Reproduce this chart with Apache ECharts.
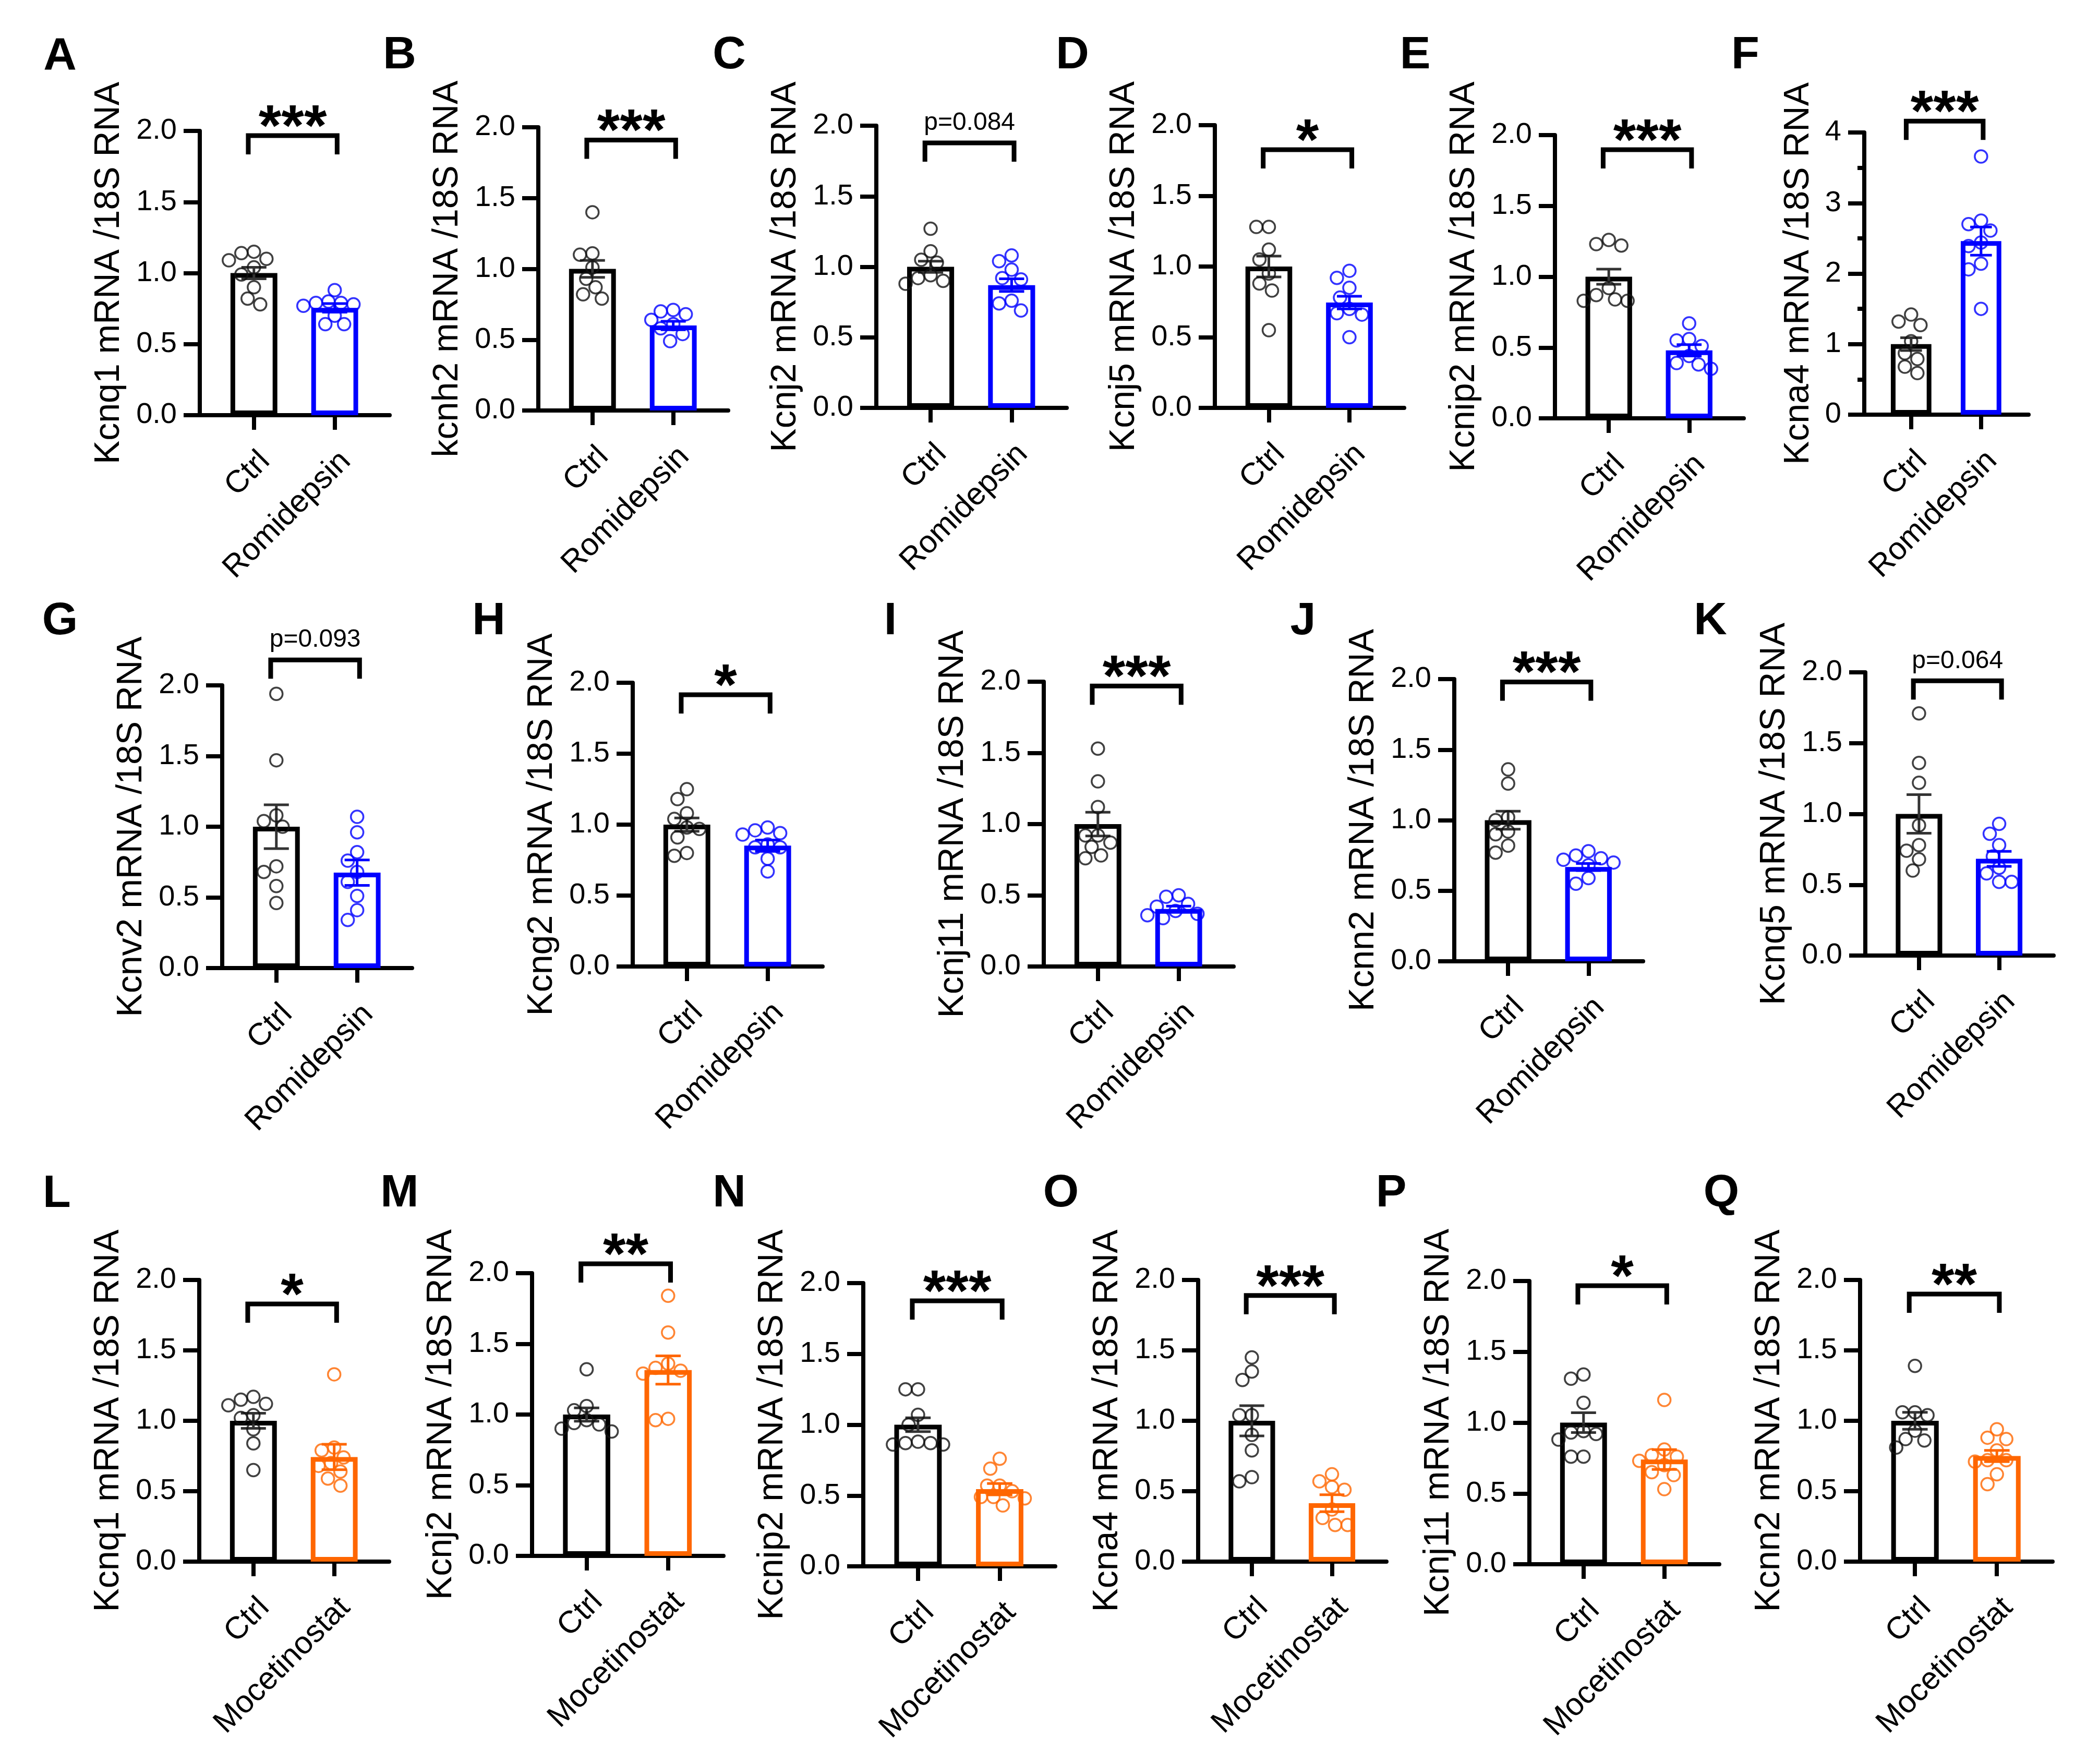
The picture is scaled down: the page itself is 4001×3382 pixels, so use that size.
<!DOCTYPE html>
<html>
<head>
<meta charset="utf-8">
<title>K+ channel mRNA / 18S RNA</title>
<script src="https://cdn.jsdelivr.net/npm/echarts@6/dist/echarts.min.js"></script>
<style>
  html, body { margin: 0; padding: 0; background: #fff; }
  #chart { width: 4001px; height: 3382px; }
</style>
</head>
<body>
<div id="chart"></div>
<script>
// ---- data ----
const panelLetters = ['A', 'B', 'C', 'D', 'E', 'F', 'G', 'H', 'I', 'J', 'K', 'L', 'M', 'N', 'O', 'P', 'Q'];
const geneNames = ['Kcnq1', 'kcnh2', 'Kcnj2', 'Kcnj5', 'Kcnip2', 'Kcna4', 'Kcnv2', 'Kcng2', 'Kcnj11', 'Kcnn2', 'Kcnq5',
  'Kcnq1', 'Kcnj2', 'Kcnip2', 'Kcna4', 'Kcnj11', 'Kcnn2'];
const drugNames = ['Romidepsin', 'Romidepsin', 'Romidepsin', 'Romidepsin', 'Romidepsin', 'Romidepsin',
  'Romidepsin', 'Romidepsin', 'Romidepsin', 'Romidepsin', 'Romidepsin',
  'Mocetinostat', 'Mocetinostat', 'Mocetinostat', 'Mocetinostat', 'Mocetinostat', 'Mocetinostat'];
const yMaxValues = [2, 2, 2, 2, 2, 4, 2, 2, 2, 2, 2, 2, 2, 2, 2, 2, 2];
const sigLabels = ['***', '***', 'p=0.084', '*', '***', '***', 'p=0.093', '*', '***', '***', 'p=0.064',
  '*', '**', '***', '***', '*', '**'];

// bar heights (mean) and SEM, [Ctrl, drug]
const barMeans = [
  [1.0, 0.755], [1.0, 0.60], [1.0, 0.87], [1.0, 0.745], [1.0, 0.48], [1.0, 2.46],
  [1.0, 0.675], [1.0, 0.852], [1.0, 0.404], [1.0, 0.668], [1.0, 0.683],
  [1.0, 0.743], [1.0, 1.315], [1.0, 0.545], [1.0, 0.415], [1.0, 0.739], [1.0, 0.75]
];
const barSems = [
  [0.04, 0.03], [0.06, 0.03], [0.04, 0.045], [0.074, 0.045], [0.053, 0.04], [0.09, 0.2],
  [0.155, 0.09], [0.047, 0.04], [0.083, 0.02], [0.064, 0.025], [0.136, 0.053],
  [0.054, 0.09], [0.047, 0.1], [0.049, 0.04], [0.107, 0.06], [0.07, 0.07], [0.06, 0.04]
];

const ctrlDots = [
  [1.15, 1.14, 1.10, 1.09, 1.04, 0.99, 0.90, 0.82, 0.78],
  [1.40, 1.11, 1.10, 1.01, 0.93, 0.87, 0.82, 0.79],
  [1.27, 1.11, 1.05, 1.03, 0.94, 0.92, 0.90, 0.88],
  [1.28, 1.28, 1.12, 1.05, 0.95, 0.88, 0.83, 0.55],
  [1.26, 1.23, 1.22, 0.92, 0.87, 0.84, 0.83, 0.83],
  [1.42, 1.32, 1.27, 1.04, 0.87, 0.79, 0.68, 0.59],
  [1.94, 1.47, 1.08, 1.04, 1.00, 0.72, 0.68, 0.58, 0.46],
  [1.25, 1.18, 1.08, 1.04, 0.98, 0.97, 0.91, 0.80, 0.78],
  [1.53, 1.30, 1.12, 0.92, 0.92, 0.87, 0.84, 0.78, 0.76],
  [1.36, 1.26, 1.02, 1.00, 0.92, 0.90, 0.82, 0.77],
  [1.71, 1.36, 1.22, 0.92, 0.78, 0.74, 0.68, 0.60],
  [1.17, 1.15, 1.12, 1.11, 1.04, 1.02, 0.94, 0.84, 0.65],
  [1.32, 1.06, 1.03, 0.96, 0.94, 0.93, 0.90, 0.88],
  [1.25, 1.25, 1.07, 1.00, 0.88, 0.87, 0.87, 0.86, 0.86],
  [1.45, 1.35, 1.29, 1.04, 1.04, 0.90, 0.79, 0.60, 0.57],
  [1.34, 1.31, 1.14, 0.94, 0.93, 0.92, 0.88, 0.76, 0.76],
  [1.39, 1.06, 1.06, 1.04, 0.93, 0.87, 0.86, 0.81]
];
const drugDots = [
  [0.88, 0.80, 0.79, 0.79, 0.78, 0.77, 0.70, 0.64, 0.64],
  [0.71, 0.70, 0.68, 0.64, 0.61, 0.58, 0.54, 0.49],
  [1.08, 1.04, 0.98, 0.92, 0.91, 0.76, 0.74, 0.69],
  [0.97, 0.92, 0.85, 0.78, 0.70, 0.67, 0.66, 0.50],
  [0.67, 0.56, 0.55, 0.51, 0.44, 0.39, 0.38, 0.35],
  [3.66, 2.75, 2.70, 2.61, 2.44, 2.39, 2.14, 2.06, 1.50],
  [1.07, 0.96, 0.82, 0.76, 0.68, 0.61, 0.51, 0.41, 0.34],
  [0.98, 0.96, 0.94, 0.93, 0.86, 0.84, 0.84, 0.76, 0.67],
  [0.50, 0.49, 0.44, 0.42, 0.39, 0.37, 0.36, 0.34],
  [0.78, 0.75, 0.73, 0.72, 0.70, 0.68, 0.59, 0.55],
  [0.93, 0.86, 0.78, 0.70, 0.62, 0.58, 0.52, 0.52],
  [1.33, 0.81, 0.79, 0.74, 0.70, 0.68, 0.64, 0.59, 0.54],
  [1.84, 1.58, 1.36, 1.33, 1.31, 1.29, 0.97, 0.96],
  [0.76, 0.69, 0.57, 0.57, 0.53, 0.49, 0.49, 0.48, 0.43],
  [0.62, 0.57, 0.53, 0.51, 0.37, 0.31, 0.26, 0.26],
  [1.16, 0.81, 0.77, 0.76, 0.73, 0.70, 0.65, 0.63, 0.53],
  [0.94, 0.88, 0.87, 0.79, 0.72, 0.72, 0.71, 0.62, 0.55]
];

// ---- layout (pixels) ----
// [y-axis x, top of y-axis, right end of x-axis, x-axis y]
const panelBoxes = [
  [383, 251, 747, 796], [1032, 244, 1396, 787], [1680, 241, 2045, 782],
  [2329, 240, 2692, 782], [2981, 259, 3343, 802], [3574, 254, 3889, 795],
  [426, 1314, 790, 1856], [1213, 1309, 1577, 1853], [2001, 1307, 2365, 1853],
  [2788, 1302, 3150, 1843], [3576, 1289, 3937, 1832],
  [382, 2454, 746, 2994], [1020, 2441, 1387, 2983], [1655, 2460, 2023, 3003],
  [2297, 2454, 2658, 2994], [2932, 2456, 3296, 2999], [3566, 2454, 3935, 2994]
];
const letterCenters = [
  [115, 109], [766, 107], [1398, 107], [2056, 107], [2713, 107], [3346, 107],
  [115, 1192], [937, 1192], [1707, 1192], [2498, 1192], [3279, 1192],
  [109, 2290], [766, 2289], [1398, 2289], [2034, 2289], [2667, 2289], [3300, 2289]
];
// bracket top, in axis units
const bracketLevels = [1.967, 1.91, 1.878, 1.827, 1.897, 4.16, 2.18, 1.915, 1.97, 1.98, 1.94,
  1.83, 2.066, 1.875, 1.89, 1.967, 1.90];

const FONT = "'Liberation Sans', Arial, sans-serif";
const drugColors = { Romidepsin: '#0000ff', Mocetinostat: '#ff6600' };
const CTRL_COLOR = '#111';
const X_MIN = -0.67, X_MAX = 1.68;

// simple beeswarm so overlapping points spread sideways
function spreadDots(values, center, pxX, pxY) {
  const minDist = 24;
  const order = values.map((v, i) => i).sort((a, b) => values[b] - values[a]);
  const placed = [];
  return order.map(i => {
    const py = values[i] * pxY;
    let px = 0;
    for (let k = 0; k < 60; k++) {
      const cand = (k % 2 === 0 ? 1 : -1) * Math.ceil(k / 2) * 6;
      if (placed.every(p => Math.hypot(p[0] - cand, p[1] - py) >= minDist)) { px = cand; break; }
    }
    placed.push([px, py]);
    return [center + px / pxX, values[i]];
  });
}

const grids = [], xAxes = [], yAxes = [], series = [], graphics = [];

panelLetters.forEach((letter, i) => {
  const [ax, top, right, bottom] = panelBoxes[i];
  const yMax = yMaxValues[i];
  const width = right - ax, height = bottom - top;
  const pxX = width / (X_MAX - X_MIN), pxY = height / yMax;
  const drug = drugNames[i];
  const dColor = drugColors[drug];
  const cats = ['Ctrl', drug];
  const isWide = yMax > 2;

  grids.push({ left: ax, top: top, width: width, height: height });

  xAxes.push({
    gridIndex: i, type: 'value', min: X_MIN, max: X_MAX,
    axisLine: { show: true, onZero: false, lineStyle: { color: '#000', width: 8 } },
    axisTick: { show: true, customValues: [0, 1], length: 28, lineStyle: { color: '#000', width: 8 } },
    axisLabel: {
      customValues: [0, 1], formatter: v => cats[Math.round(v)],
      rotate: 45, margin: 58, verticalAlign: 'top',
      fontSize: 60, fontFamily: FONT, color: '#000'
    },
    splitLine: { show: false }
  });

  yAxes.push({
    gridIndex: i, type: 'value', min: 0, max: yMax, interval: isWide ? 1 : 0.5,
    name: geneNames[i] + ' mRNA /18S RNA', nameLocation: 'middle', nameGap: isWide ? 92 : 140,
    nameTextStyle: { fontSize: 68, fontFamily: FONT, color: '#000' },
    axisLine: { show: true, onZero: false, lineStyle: { color: '#000', width: 8 } },
    axisTick: { show: true, length: 31, lineStyle: { color: '#000', width: 8 } },
    minorTick: isWide ? { show: true, splitNumber: 2, length: 13, lineStyle: { color: '#000', width: 8 } } : { show: false },
    axisLabel: {
      margin: 44, fontSize: 56, fontFamily: FONT, color: '#000',
      formatter: v => isWide ? String(v) : v.toFixed(1)
    },
    splitLine: { show: false }
  });

  // bars
  series.push({
    type: 'bar', xAxisIndex: i, yAxisIndex: i, barWidth: 0.58 * pxX, z: 2, silent: true,
    data: barMeans[i].map((m, k) => ({
      value: [k, m],
      itemStyle: { color: '#fff', borderColor: k === 0 ? '#000' : dColor, borderWidth: 9 }
    }))
  });

  // mean +/- SEM
  const cap = 0.155 * pxX;
  series.push({
    type: 'custom', xAxisIndex: i, yAxisIndex: i, z: 3, clip: false, silent: true,
    data: barMeans[i].map((m, k) => ({
      value: [k, m, barSems[i][k]],
      itemStyle: { color: k === 0 ? '#333' : dColor }
    })),
    renderItem: (params, api) => {
      const x = api.value(0), m = api.value(1), s = api.value(2);
      const hi = api.coord([x, m + s]);
      const lo = api.coord([x, m - s]);
      const style = { stroke: api.visual('color'), lineWidth: 5, fill: null };
      return {
        type: 'group', children: [
          { type: 'line', shape: { x1: hi[0], y1: hi[1], x2: lo[0], y2: lo[1] }, style },
          { type: 'line', shape: { x1: hi[0] - cap, y1: hi[1], x2: hi[0] + cap, y2: hi[1] }, style },
          { type: 'line', shape: { x1: lo[0] - cap, y1: lo[1], x2: lo[0] + cap, y2: lo[1] }, style }
        ]
      };
    }
  });

  // individual animals
  [[ctrlDots[i], 0, CTRL_COLOR], [drugDots[i], 1, dColor]].forEach(([vals, c, col]) => {
    series.push({
      type: 'scatter', xAxisIndex: i, yAxisIndex: i, z: 4, silent: true,
      symbol: 'circle', symbolSize: 24,
      itemStyle: { color: 'rgba(0,0,0,0)', borderColor: col, borderWidth: 3.5 },
      data: spreadDots(vals, c, pxX, pxY)
    });
  });

  // significance bracket
  const label = sigLabels[i];
  const isStars = label.indexOf('*') === 0;
  series.push({
    type: 'custom', xAxisIndex: i, yAxisIndex: i, z: 5, clip: false, silent: true,
    data: [[0.5, bracketLevels[i]]],
    renderItem: (params, api) => {
      const lvl = api.value(1);
      const l = api.coord([-0.07, lvl]);
      const r = api.coord([1.03, lvl]);
      const leg = 36;
      const mid = (l[0] + r[0]) / 2;
      return {
        type: 'group', children: [
          {
            type: 'polyline',
            shape: { points: [[l[0], l[1] + leg], [l[0], l[1]], [r[0], r[1]], [r[0], r[1] + leg]] },
            style: { stroke: '#000', lineWidth: 9, fill: null }
          },
          {
            type: 'text',
            style: {
              text: label, x: mid, y: l[1] - (isStars ? 12 : 38),
              align: 'center', verticalAlign: 'middle', textAlign: 'center', textVerticalAlign: 'middle',
              font: isStars ? 'bold 112px ' + FONT : '48px ' + FONT, fill: '#000'
            }
          }
        ]
      };
    }
  });

  // panel letter
  const [lx, ly] = letterCenters[i];
  graphics.push({
    type: 'text', x: lx, y: ly,
    style: {
      text: letter, font: 'bold 88px ' + FONT, fill: '#000',
      align: 'center', verticalAlign: 'middle', textAlign: 'center', textVerticalAlign: 'middle'
    }
  });
});

const chart = echarts.init(document.getElementById('chart'), null, { renderer: 'canvas' });
chart.setOption({
  backgroundColor: '#fff',
  animation: false,
  grid: grids,
  xAxis: xAxes,
  yAxis: yAxes,
  series: series,
  graphic: graphics
});
</script>
</body>
</html>
